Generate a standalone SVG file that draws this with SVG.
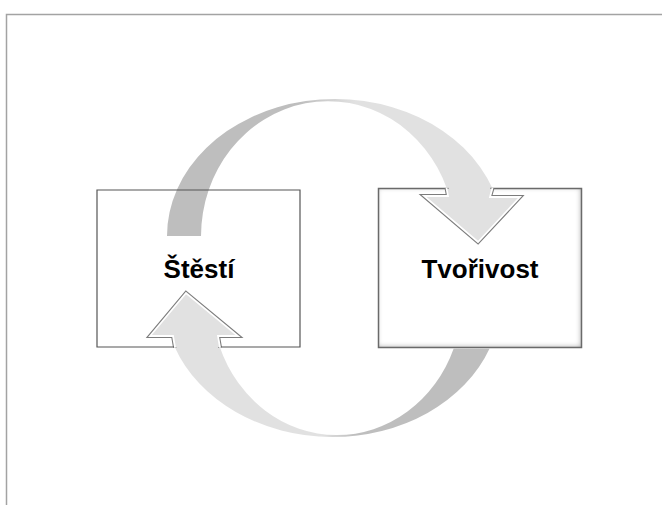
<svg xmlns="http://www.w3.org/2000/svg" width="662" height="505" viewBox="0 0 662 505">
  <style>
    .label { font-family: "Liberation Sans", Arial, sans-serif; font-weight: bold; font-size: 26px; fill: #000; text-anchor: middle; }
    .frame { fill: none; stroke: #a3a3a3; stroke-width: 1.5; }
    .plain-box { fill: none; stroke: #555; stroke-width: 1.2; }
    .bevel-edge { fill: none; stroke: #6a6a6a; stroke-width: 1.5; }
    .head-dark { fill: none; stroke: #7c7c7c; stroke-width: 4; stroke-linejoin: miter; }
    .head-light { fill: none; stroke: #fff; stroke-width: 1.8; stroke-linejoin: miter; }
  </style>
  <defs>
    <linearGradient id="topArcFill" gradientUnits="userSpaceOnUse" x1="300" y1="0" x2="355" y2="0">
      <stop offset="0" stop-color="#bebebe"/>
      <stop offset="1" stop-color="#e1e1e1"/>
    </linearGradient>
    <linearGradient id="bottomArcFill" gradientUnits="userSpaceOnUse" x1="322" y1="0" x2="355" y2="0">
      <stop offset="0" stop-color="#e1e1e1"/>
      <stop offset="1" stop-color="#bebebe"/>
    </linearGradient>
    <filter id="innerBevel" x="-5%" y="-5%" width="110%" height="110%">
      <feFlood flood-color="#000" flood-opacity="0.6" result="c"/>
      <feComposite in="c" in2="SourceAlpha" operator="out" result="inv"/>
      <feGaussianBlur in="inv" stdDeviation="2.5" result="b"/>
      <feOffset in="b" dx="-1.5" dy="-1.5" result="o"/>
      <feComposite in="o" in2="SourceAlpha" operator="in" result="shadow"/>
      <feMerge>
        <feMergeNode in="SourceGraphic"/>
        <feMergeNode in="shadow"/>
      </feMerge>
    </filter>
  </defs>

  <!-- page frame -->
  <path class="frame" d="M 6.5,505 V 14.5 H 662"/>

  <!-- right node: bevelled box -->
  <g id="node-tvorivost">
    <rect x="378.5" y="188.5" width="203" height="159" fill="#fff" filter="url(#innerBevel)"/>
    <rect class="bevel-edge" x="378.5" y="188.5" width="203" height="159"/>
    <text class="label" x="480" y="278">Tvořivost</text>
  </g>

  <!-- curved cycle arrows -->
  <g id="connectors">
    <!-- Štěstí -> Tvořivost (over the top) -->
    <g id="arrow-top">
      <path fill="url(#topArcFill)" d="M 167,236 A 168,137 0 0 1 492.8,189 L 490,196.5 L 520,197 L 478,242 L 424,196 L 448,196 L 447,189 A 127,135 0 0 0 201,236 Z"/>
      <path class="head-dark" d="M 446.5,188 L 448,196 L 424,196 L 478,242 L 520,197 L 490,197 L 492.5,188"/>
      <path fill="url(#topArcFill)" d="M 447,189 L 448,196 L 424,196 L 478,242 L 520,197 L 490,197 L 492.8,189 Z"/>
      <path class="head-light" d="M 446.5,188 L 448,196 L 424,196 L 478,242 L 520,197 L 490,197 L 492.5,188"/>
    </g>
    <!-- Tvořivost -> Štěstí (underneath) -->
    <g id="arrow-bottom">
      <path fill="url(#bottomArcFill)" d="M 489.6,348.5 A 168,137 0 0 1 174.7,347 L 173,336 L 150,336 L 186,293 L 238,336 L 218,336 L 219.8,347 A 125,135 0 0 0 453.7,348.5 Z"/>
      <path class="head-dark" d="M 175,347.5 L 173,336 L 150,336 L 186,293 L 238,336 L 218,336 L 220,347.5"/>
      <path fill="#e1e1e1" d="M 175,347 L 173,336 L 150,336 L 186,293 L 238,336 L 218,336 L 220,347 Z"/>
      <path class="head-light" d="M 175,347.5 L 173,336 L 150,336 L 186,293 L 238,336 L 218,336 L 220,347.5"/>
    </g>
  </g>

  <!-- left node: plain outline, open where the arrow enters -->
  <g id="node-stesti">
    <path class="plain-box" d="M 174,347 H 97 V 190 H 300 V 347 H 221"/>
    <text class="label" x="199" y="278">Štěstí</text>
  </g>
</svg>
